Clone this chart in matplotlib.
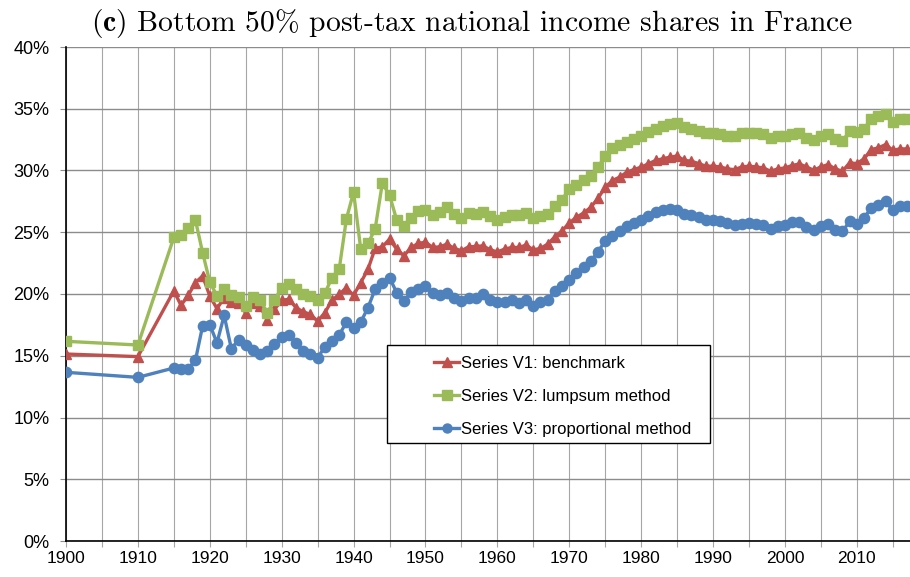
import matplotlib
matplotlib.use('Agg')
import matplotlib.pyplot as plt
from matplotlib.ticker import MultipleLocator, FuncFormatter
from matplotlib.patches import Rectangle
from matplotlib.lines import Line2D

# ---------------- data ----------------
years = [1900, 1910] + list(range(1915, 2018))

v1_benchmark = [
    15.14, 14.93,
    20.25, 19.08, 19.89, 20.92, 21.46,
    19.84, 18.81, 19.70, 19.35, 19.24,
    18.48, 19.24, 19.02, 17.86, 18.75,
    19.49, 19.57, 18.89, 18.56, 18.35,
    17.80, 18.48, 19.49, 19.97, 20.51,
    19.89, 20.92, 22.00, 23.69, 23.82,
    24.44, 23.63, 23.09, 23.77, 24.09,
    24.20, 23.77, 23.82, 24.04, 23.69,
    23.50, 23.82, 23.85, 23.90, 23.58,
    23.41, 23.63, 23.77, 23.77, 23.96,
    23.58, 23.69, 24.04, 24.63, 25.12,
    25.75, 26.21, 26.56, 27.02, 27.75,
    28.64, 29.19, 29.46, 29.86, 30.08,
    30.27, 30.54, 30.81, 30.95, 31.08,
    31.17, 30.82, 30.75, 30.56, 30.35,
    30.35, 30.29, 30.13, 30.07, 30.29,
    30.35, 30.29, 30.21, 29.94, 30.13,
    30.21, 30.40, 30.53, 30.29, 30.02,
    30.29, 30.48, 30.13, 29.94, 30.62,
    30.56, 30.94, 31.70, 31.83, 32.10,
    31.64, 31.75, 31.75,
]

v2_lumpsum = [
    16.17, 15.87,
    24.58, 24.77, 25.37, 25.99, 23.36,
    20.98, 19.84, 20.38, 19.92, 19.76,
    19.02, 19.76, 19.51, 18.48, 19.51,
    20.51, 20.84, 20.43, 19.97, 19.84,
    19.51, 20.05, 21.33, 22.00, 26.07,
    28.24, 23.63, 24.09, 25.26, 28.97,
    28.02, 25.99, 25.47, 26.15, 26.75,
    26.84, 26.40, 26.61, 27.02, 26.48,
    26.15, 26.56, 26.48, 26.61, 26.34,
    25.99, 26.21, 26.40, 26.40, 26.56,
    26.12, 26.29, 26.48, 27.10, 27.64,
    28.51, 28.83, 29.27, 29.59, 30.27,
    31.17, 31.82, 32.03, 32.30, 32.57,
    32.79, 33.12, 33.39, 33.60, 33.74,
    33.88, 33.49, 33.32, 33.19, 33.00,
    33.00, 32.97, 32.78, 32.78, 33.05,
    33.05, 33.05, 32.97, 32.65, 32.78,
    32.83, 32.92, 33.05, 32.65, 32.51,
    32.78, 32.92, 32.56, 32.37, 33.19,
    33.11, 33.38, 34.13, 34.40, 34.54,
    33.94, 34.13, 34.13,
]

v3_proportional = [
    13.66, 13.25,
    14.01, 13.96, 13.96, 14.63, 17.40,
    17.53, 16.04, 18.27, 15.56, 16.31,
    15.83, 15.50, 15.18, 15.37, 15.96,
    16.53, 16.69, 16.04, 15.42, 15.18,
    14.82, 15.72, 16.23, 16.67, 17.72,
    17.21, 17.72, 18.89, 20.38, 20.92,
    21.33, 20.11, 19.43, 20.16, 20.43,
    20.62, 20.05, 19.89, 20.05, 19.65,
    19.43, 19.70, 19.70, 19.97, 19.49,
    19.35, 19.35, 19.51, 19.30, 19.49,
    19.02, 19.38, 19.49, 20.24, 20.65,
    21.14, 21.68, 22.22, 22.68, 23.41,
    24.31, 24.72, 25.07, 25.47, 25.75,
    25.99, 26.34, 26.67, 26.83, 26.88,
    26.83, 26.49, 26.37, 26.23, 26.01,
    25.96, 25.93, 25.74, 25.55, 25.69,
    25.74, 25.69, 25.55, 25.28, 25.47,
    25.61, 25.80, 25.83, 25.42, 25.15,
    25.47, 25.66, 25.20, 25.07, 25.88,
    25.69, 26.15, 26.96, 27.23, 27.50,
    26.77, 27.10, 27.10,
]

labels = ["Series V1: benchmark", "Series V2: lumpsum method",
          "Series V3: proportional method"]
title_text = r"$\mathbf{(c)}$ Bottom 50% post-tax national income shares in France"

# ---------------- style ----------------
plt.rcParams['font.family'] = ['Liberation Sans', 'DejaVu Sans']
RED, GREEN, BLUE = '#C0504D', '#9BBB59', '#4F81BD'

W, H = 910, 577
fig = plt.figure(figsize=(W / 100, H / 100), dpi=100)
ax = fig.add_axes([66 / W, 1 - 541 / H, (910 - 66) / W, (541 - 47) / H])

series = [(v1_benchmark, RED, '^', 7.8), (v2_lumpsum, GREEN, 's', 7.2),
          (v3_proportional, BLUE, 'o', 7.4)]
for vals, col, mk, ms in series:
    ax.plot(years, [v / 100 for v in vals], color=col, lw=2.4, marker=mk,
            ms=ms, mec=col, mfc=col, zorder=3, solid_joinstyle='round')

ax.set_xlim(1900, 2017.4)
ax.set_ylim(0, 0.40)
ax.xaxis.set_major_locator(MultipleLocator(10))
ax.xaxis.set_minor_locator(MultipleLocator(5))
ax.yaxis.set_major_locator(MultipleLocator(0.05))
ax.yaxis.set_major_formatter(FuncFormatter(lambda v, p: f"{v * 100:.0f}%"))

ax.grid(axis='x', which='both', color='#a6a6a6', lw=0.8)
ax.grid(axis='y', which='major', color='#8c8c8c', lw=1.0)
ax.set_axisbelow(True)

for s in ['top', 'right']:
    ax.spines[s].set_visible(False)
for s in ['left', 'bottom']:
    ax.spines[s].set_color('black')
    ax.spines[s].set_linewidth(1.2)

ax.tick_params(axis='x', which='both', length=4, width=0.8, color='#a6a6a6',
               labelsize=12.5, pad=3)
ax.tick_params(axis='y', length=4, width=0.8, color='#8c8c8c', labelsize=13, pad=8)

# title
fig.text(472 / W, 1 - 23 / H, title_text, family='cmr10', math_fontfamily='cm',
         fontsize=21.3, ha='center', va='center')

# legend
fig.patches.append(Rectangle((387 / W, 1 - 443 / H), 323 / W, 98 / H,
                             transform=fig.transFigure, facecolor='white',
                             edgecolor='black', lw=1.0, zorder=5))
handles = [Line2D([], [], color=c, lw=2.4, marker=m, ms=6.5, mec=c, mfc=c)
           for _, c, m, _ in series]
leg = fig.legend(handles, labels, loc='upper left',
                 bbox_to_anchor=(434 / W, 1 - 355.5 / H), frameon=False,
                 fontsize=12, handlelength=1.5, handletextpad=0.1,
                 labelspacing=1.1, borderpad=0, borderaxespad=0)
leg.set_zorder(6)

fig.savefig('out.png', dpi=100)
